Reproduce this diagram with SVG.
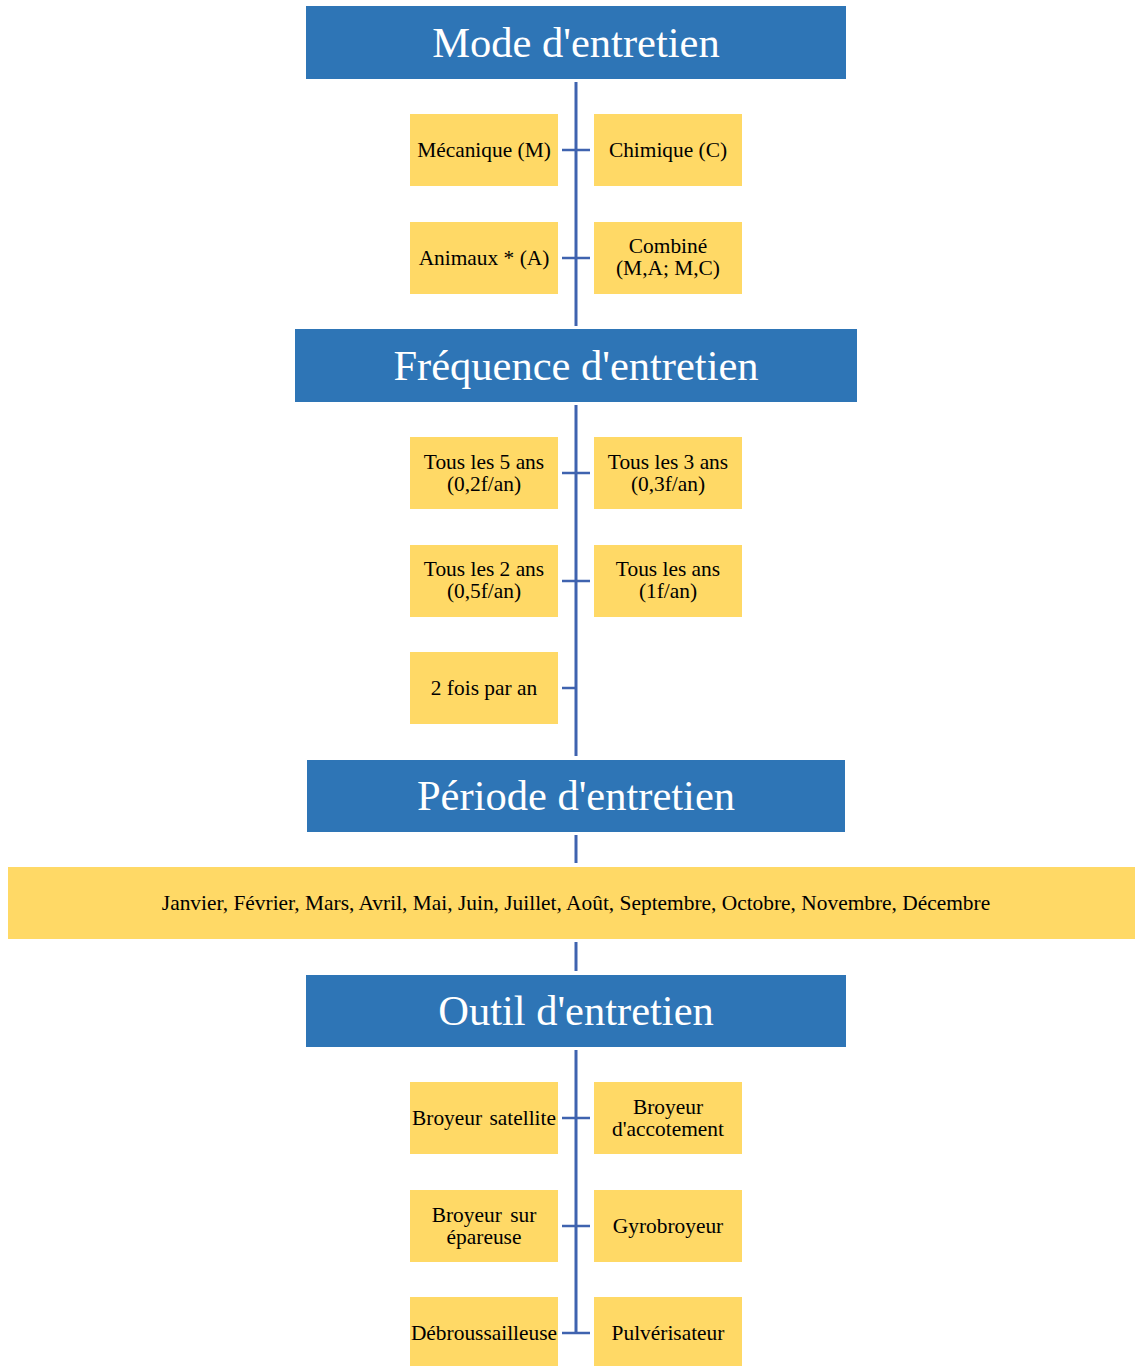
<svg xmlns="http://www.w3.org/2000/svg" width="1135" height="1366" viewBox="0 0 1135 1366">
<style>
.h{fill:#2E75B6}
.ht{fill:#fff;font-family:"Liberation Serif",serif;font-size:42.5px;text-anchor:middle}
.b{fill:#FFD966}
.t{fill:#000;font-family:"Liberation Serif",serif;font-size:21.4px;text-anchor:middle}
.c{stroke:#3F63AF;stroke-width:3;fill:none}
.k{stroke:#3F63AF;stroke-width:2.5;fill:none}
</style>
<rect width="1135" height="1366" fill="#fff"/>
<g id="connectors">
<line class="c" x1="576" y1="82" x2="576" y2="326"/>
<line class="k" x1="562" y1="150" x2="590" y2="150"/>
<line class="k" x1="562" y1="258" x2="590" y2="258"/>
<line class="c" x1="576" y1="405" x2="576" y2="756"/>
<line class="k" x1="562" y1="473" x2="590" y2="473"/>
<line class="k" x1="562" y1="581" x2="590" y2="581"/>
<line class="k" x1="562" y1="688" x2="576" y2="688"/>
<line class="c" x1="576" y1="835" x2="576" y2="863"/>
<line class="c" x1="576" y1="942" x2="576" y2="971"/>
<line class="c" x1="576" y1="1050" x2="576" y2="1333"/>
<line class="k" x1="562" y1="1118" x2="590" y2="1118"/>
<line class="k" x1="562" y1="1226" x2="590" y2="1226"/>
<line class="k" x1="562" y1="1333" x2="590" y2="1333"/>
</g>
<g id="mode"><rect class="h" x="306" y="6" width="540" height="73"/><text class="ht" x="576" y="57">Mode d'entretien</text></g>
<g id="mecanique"><rect class="b" x="410" y="114" width="148" height="72"/><text class="t" x="484" y="157">Mécanique (M)</text></g>
<g id="chimique"><rect class="b" x="594" y="114" width="148" height="72"/><text class="t" x="668" y="157">Chimique (C)</text></g>
<g id="animaux"><rect class="b" x="410" y="222" width="148" height="72"/><text class="t" x="484" y="265">Animaux * (A)</text></g>
<g id="combine"><rect class="b" x="594" y="222" width="148" height="72"/><text class="t" x="668" y="253">Combiné</text><text class="t" x="668" y="275">(M,A; M,C)</text></g>
<g id="frequence"><rect class="h" x="295" y="329" width="562" height="73"/><text class="ht" x="576" y="380">Fréquence d'entretien</text></g>
<g id="f5"><rect class="b" x="410" y="437" width="148" height="72"/><text class="t" x="484" y="469">Tous les 5 ans</text><text class="t" x="484" y="491">(0,2f/an)</text></g>
<g id="f3"><rect class="b" x="594" y="437" width="148" height="72"/><text class="t" x="668" y="469">Tous les 3 ans</text><text class="t" x="668" y="491">(0,3f/an)</text></g>
<g id="f2"><rect class="b" x="410" y="545" width="148" height="72"/><text class="t" x="484" y="576">Tous les 2 ans</text><text class="t" x="484" y="598">(0,5f/an)</text></g>
<g id="f1"><rect class="b" x="594" y="545" width="148" height="72"/><text class="t" x="668" y="576">Tous les ans</text><text class="t" x="668" y="598">(1f/an)</text></g>
<g id="f05"><rect class="b" x="410" y="652" width="148" height="72"/><text class="t" x="484" y="695">2 fois par an</text></g>
<g id="periode"><rect class="h" x="307" y="760" width="538" height="72"/><text class="ht" x="576" y="810">Période d'entretien</text></g>
<g id="mois"><rect class="b" x="8" y="867" width="1127" height="72"/><text class="t" x="576" y="910">Janvier, Février, Mars, Avril, Mai, Juin, Juillet, Août, Septembre, Octobre, Novembre, Décembre</text></g>
<g id="outil"><rect class="h" x="306" y="975" width="540" height="72"/><text class="ht" x="576" y="1025">Outil d'entretien</text></g>
<g id="satellite"><rect class="b" x="410" y="1082" width="148" height="72"/><text class="t" x="484" y="1125" word-spacing="2">Broyeur satellite</text></g>
<g id="accotement"><rect class="b" x="594" y="1082" width="148" height="72"/><text class="t" x="668" y="1114">Broyeur</text><text class="t" x="668" y="1136">d'accotement</text></g>
<g id="epareuse"><rect class="b" x="410" y="1190" width="148" height="72"/><text class="t" x="484" y="1222" word-spacing="3">Broyeur sur</text><text class="t" x="484" y="1244">épareuse</text></g>
<g id="gyro"><rect class="b" x="594" y="1190" width="148" height="72"/><text class="t" x="668" y="1233">Gyrobroyeur</text></g>
<g id="debrous"><rect class="b" x="410" y="1297" width="148" height="69"/><text class="t" x="484" y="1340">Débroussailleuse</text></g>
<g id="pulve"><rect class="b" x="594" y="1297" width="148" height="69"/><text class="t" x="668" y="1340">Pulvérisateur</text></g>
</svg>
